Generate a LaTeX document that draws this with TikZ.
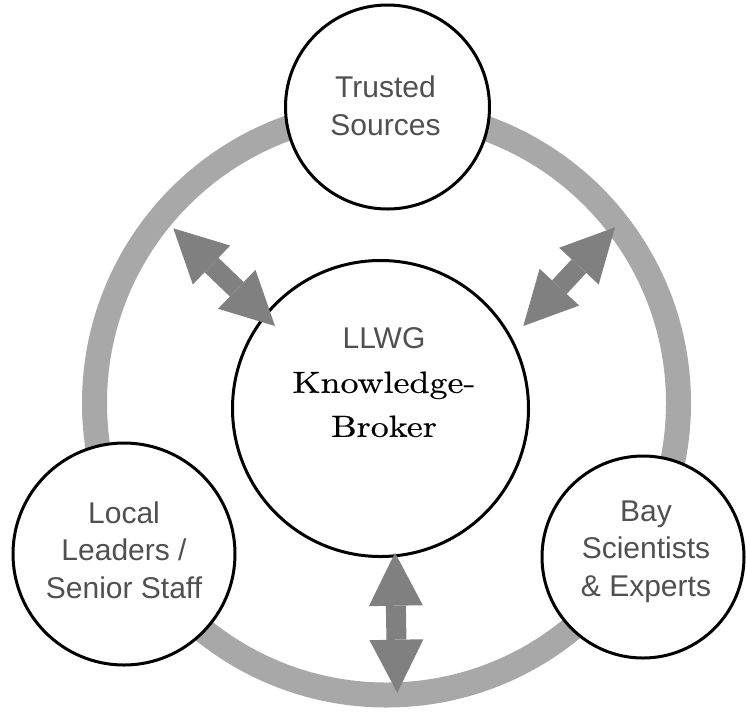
\documentclass[tikz,border=0pt]{standalone}
\usepackage{fontspec}
\usetikzlibrary{arrows.meta}
\newfontfamily\labelsans{Liberation Sans}
\newfontfamily\brokerserif[FakeStretch=1.18, FakeBold=0.6]{lmroman10-regular.otf}
\definecolor{ringgray}{HTML}{A8A8A8}
\definecolor{arrowgray}{HTML}{808080}
\definecolor{labelgray}{HTML}{505050}

\begin{document}
\begin{tikzpicture}[x=1pt,y=-1pt,
  bubble/.style={circle, draw=black, line width=3pt, fill=white, inner sep=0pt},
  label text/.style={align=center, text=labelgray, font=\labelsans\fontsize{30}{37.5}\selectfont},
  ring/.style={draw=ringgray, line width=25pt},
  twoway/.style={draw=arrowgray, line width=20pt, {Triangle[length=53pt, width=54pt, line width=0pt]}-{Triangle[length=53pt, width=54pt, line width=0pt]}}
]
\useasboundingbox (0,0) rectangle (746,713);

% outer exchange ring
\coordinate (ringc) at (386.5,403);
\draw[ring] (ringc) circle (292pt);

% partner circles and the broker in the middle
\node[bubble, minimum size=296pt] (hub) at (380.5,408.5) {};
\node[bubble, minimum size=204pt] (trusted) at (387.5,107) {};
\node[bubble, minimum size=222pt] (leaders) at (124,554) {};
\node[bubble, minimum size=202pt] (experts) at (643,557) {};

% labels
\node[label text] (trusted-txt) at (385.5,106) {Trusted\\Sources};
\node[label text] (leaders-txt) at (124,550) {Local\\Leaders /\\Senior Staff};
\node[label text] (experts-txt) at (646,551.5) {Bay\\Scientists\\\& Experts};
\node[align=center, font=\brokerserif\fontsize{30.5}{44}\selectfont] (hub-txt) at (384,382.5)
  {{\labelsans\fontsize{30}{44}\selectfont\color{labelgray}LLWG}\\Knowledge-\\Broker};

% two-way exchange arrows between the ring and the broker
\coordinate (nw-out) at (173.3,228.3);
\coordinate (nw-in) at (275,326);
\coordinate (ne-out) at (615,227.3);
\coordinate (ne-in) at (523.3,326);
\coordinate (s-in) at (395,552.7);
\coordinate (s-out) at (397.3,692.7);
\draw[twoway] (nw-out) -- (nw-in);
\draw[twoway] (ne-out) -- (ne-in);
\draw[twoway] (s-in) -- (s-out);
\end{tikzpicture}
\end{document}
